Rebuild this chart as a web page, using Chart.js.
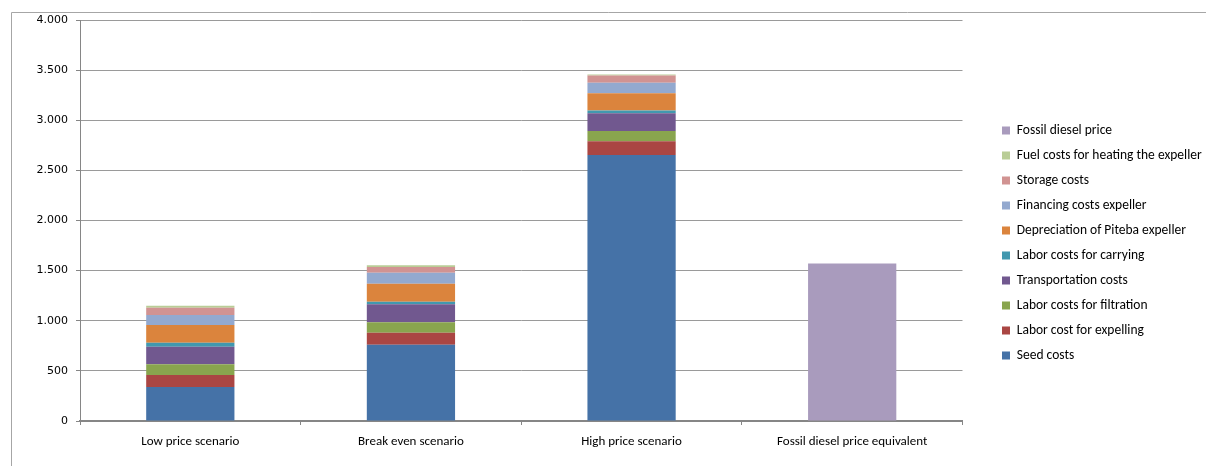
<!DOCTYPE html>
<html>
<head>
<meta charset="utf-8">
<script src="https://cdn.jsdelivr.net/npm/chart.js@4.4.1/dist/chart.umd.min.js"></script>
<style>
  html, body { margin: 0; padding: 0; background: #ffffff; }
  #wrap { width: 1206px; height: 466px; position: relative; }
</style>
</head>
<body>
<div id="wrap"><canvas id="chart" width="1206" height="466"></canvas></div>
<script>
// Cost build-up per scenario (stacked), plus the fossil diesel reference bar
const categories = ['Low price scenario', 'Break even scenario', 'High price scenario', 'Fossil diesel price equivalent'];

const seedCosts       = [340, 760, 2654, null];
const laborExpelling  = [120, 120, 136, null];
const laborFiltration = [107, 104, 104, null];
const transportation  = [173, 180, 176, null];
const laborCarrying   = [40, 26, 27, null];
const depreciation    = [177, 180, 173, null];
const financing       = [100, 110, 104, null];
const storage         = [73, 57, 73, null];
const fuelHeating     = [20, 17, 10, null];
const fossilDiesel    = [null, null, null, 1570];

const seriesNames = [
  'Seed costs',
  'Labor cost for expelling',
  'Labor costs for filtration',
  'Transportation costs',
  'Labor costs for carrying',
  'Depreciation of Piteba expeller',
  'Financing costs expeller',
  'Storage costs',
  'Fuel costs for heating the expeller',
  'Fossil diesel price'
];
const seriesValues = [seedCosts, laborExpelling, laborFiltration, transportation, laborCarrying,
                      depreciation, financing, storage, fuelHeating, fossilDiesel];
const seriesColors = ['#4572A7', '#AA4643', '#89A54E', '#71588F', '#4198AF',
                      '#DB843D', '#93A9CF', '#D19392', '#B9CD96', '#A99BBD'];

const yMin = 0;
const yMax = 4000;
const yStep = 500;

const textFont = "'Carlito', 'Liberation Sans', Arial, sans-serif";
const numFont = "'DejaVu Sans', Verdana, sans-serif";
const legendFontSize = 13.5;
const legendBox = 8;
const legendPad = 11.5;
const plotRight = 961;
const legendGap = 28;

// thousands separator as in "1.500"
function formatThousands(v) {
  return String(v).replace(/\B(?=(\d{3})+(?!\d))/g, '.');
}

// size the right padding so the plot ends where wanted next to the legend
const measure = document.createElement('canvas').getContext('2d');
measure.font = legendFontSize + 'px ' + textFont;
const longest = Math.max(...seriesNames.map(n => measure.measureText(n).width));
const legendWidth = legendPad * 2 + legendBox + legendFontSize / 2 + longest;
const padRight = 1206 - plotRight - legendWidth;

// outer frame line along the top and left edges
const framePlugin = {
  id: 'frame',
  beforeDraw(chart) {
    const ctx = chart.ctx;
    ctx.save();
    ctx.strokeStyle = '#a6a6a6';
    ctx.lineWidth = 1;
    ctx.beginPath();
    ctx.moveTo(11.5, chart.height);
    ctx.lineTo(11.5, 12.5);
    ctx.lineTo(chart.width, 12.5);
    ctx.stroke();
    ctx.restore();
  }
};

// keep the legend clear of the plot area
const legendOffsetPlugin = {
  id: 'legendOffset',
  afterLayout(chart) {
    const lg = chart.legend;
    if (!lg) return;
    lg.left = chart.chartArea.right + legendGap;
    lg.right = lg.left + lg.width;
  }
};

const datasets = seriesNames.map((name, i) => ({
  label: name,
  data: seriesValues[i],
  backgroundColor: seriesColors[i],
  borderWidth: 0,
  stack: 'costs',
  categoryPercentage: 0.4,
  barPercentage: 1.0
}));

new Chart(document.getElementById('chart'), {
  type: 'bar',
  data: { labels: categories, datasets },
  plugins: [framePlugin, legendOffsetPlugin],
  options: {
    responsive: false,
    animation: false,
    devicePixelRatio: 1,
    layout: { padding: { left: 0, top: 20, right: padRight, bottom: 0 } },
    plugins: {
      tooltip: { enabled: false },
      legend: {
        position: 'right',
        reverse: true,
        labels: {
          boxWidth: legendBox,
          boxHeight: legendBox,
          padding: legendPad,
          color: '#000000',
          font: { family: textFont, size: legendFontSize }
        }
      }
    },
    scales: {
      x: {
        stacked: true,
        afterFit(scale) { scale.height = 45; },
        grid: {
          display: true,
          drawOnChartArea: false,
          drawTicks: true,
          tickLength: 4,
          tickColor: '#868686',
          offset: true
        },
        border: { display: true, color: '#868686', width: 2 },
        ticks: {
          color: '#000000',
          padding: 9,
          maxRotation: 0,
          font: { family: textFont, size: 13 }
        }
      },
      y: {
        stacked: true,
        min: yMin,
        max: yMax,
        afterFit(scale) { scale.width = 80; },
        grid: {
          color: '#9a9a9a',
          lineWidth: 1,
          tickLength: 4,
          tickColor: '#868686'
        },
        border: { display: true, color: '#868686', width: 1 },
        ticks: {
          stepSize: yStep,
          padding: 8,
          color: '#000000',
          font: { family: numFont, size: 11 },
          callback: (v) => formatThousands(v)
        }
      }
    }
  }
});
</script>
</body>
</html>
